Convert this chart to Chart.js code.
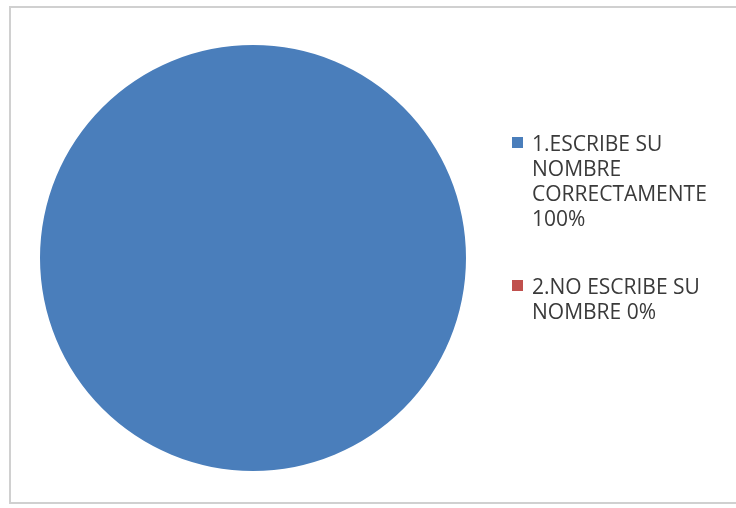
<!DOCTYPE html>
<html lang="es">
<head>
  <meta charset="UTF-8">
  <title>Escribe su nombre</title>
  <script src="https://cdn.jsdelivr.net/npm/chart.js"></script>
  <style>
    body { margin: 0; width: 736px; height: 508px; background: #fff; overflow: hidden; font-family: "Open Sans", Lato, sans-serif; }
    #frame { position: absolute; left: 9px; top: 6px; width: 730px; height: 498px; border: 2px solid #d0d0d0; box-sizing: border-box; }
    #wrap { position: absolute; left: 0; top: 0; width: 736px; height: 508px; }
    #legend { position: absolute; left: 512px; top: 131px; width: 224px; }
    .item { display: flex; align-items: flex-start; margin-bottom: 43px; }
    .box { width: 11px; height: 11px; margin-top: 6px; margin-right: 9px; flex: none; }
    .txt { font-size: 21px; line-height: 25px; color: #3a3a3a; white-space: nowrap; }
  </style>
</head>
<body>
  <div id="frame"></div>
  <div id="wrap"><canvas id="pie" width="736" height="508"></canvas></div>
  <div id="legend"></div>

  <script>
    const labels = [
      ['1.ESCRIBE SU', 'NOMBRE', 'CORRECTAMENTE', '100%'],
      ['2.NO ESCRIBE SU', 'NOMBRE 0%']
    ];
    const values = [100, 0];
    const colors = ['#4a7ebb', '#c0504d'];

    const pieChart = new Chart(document.getElementById('pie'), {
      type: 'pie',
      data: {
        labels: labels.map(l => l.join(' ')),
        datasets: [{ data: values, backgroundColor: colors, borderWidth: 0 }]
      },
      options: {
        responsive: false,
        animation: false,
        layout: { padding: { left: 40, right: 270, top: 45, bottom: 37 } },
        plugins: { legend: { display: false }, tooltip: { enabled: false } }
      }
    });

    // html legend built from the chart data
    const legend = document.getElementById('legend');
    pieChart.data.labels.forEach((_, i) => {
      const item = document.createElement('div');
      item.className = 'item';
      const box = document.createElement('div');
      box.className = 'box';
      box.style.background = colors[i];
      const txt = document.createElement('div');
      txt.className = 'txt';
      txt.innerHTML = labels[i].join('<br>');
      item.appendChild(box);
      item.appendChild(txt);
      legend.appendChild(item);
    });
  </script>
</body>
</html>
